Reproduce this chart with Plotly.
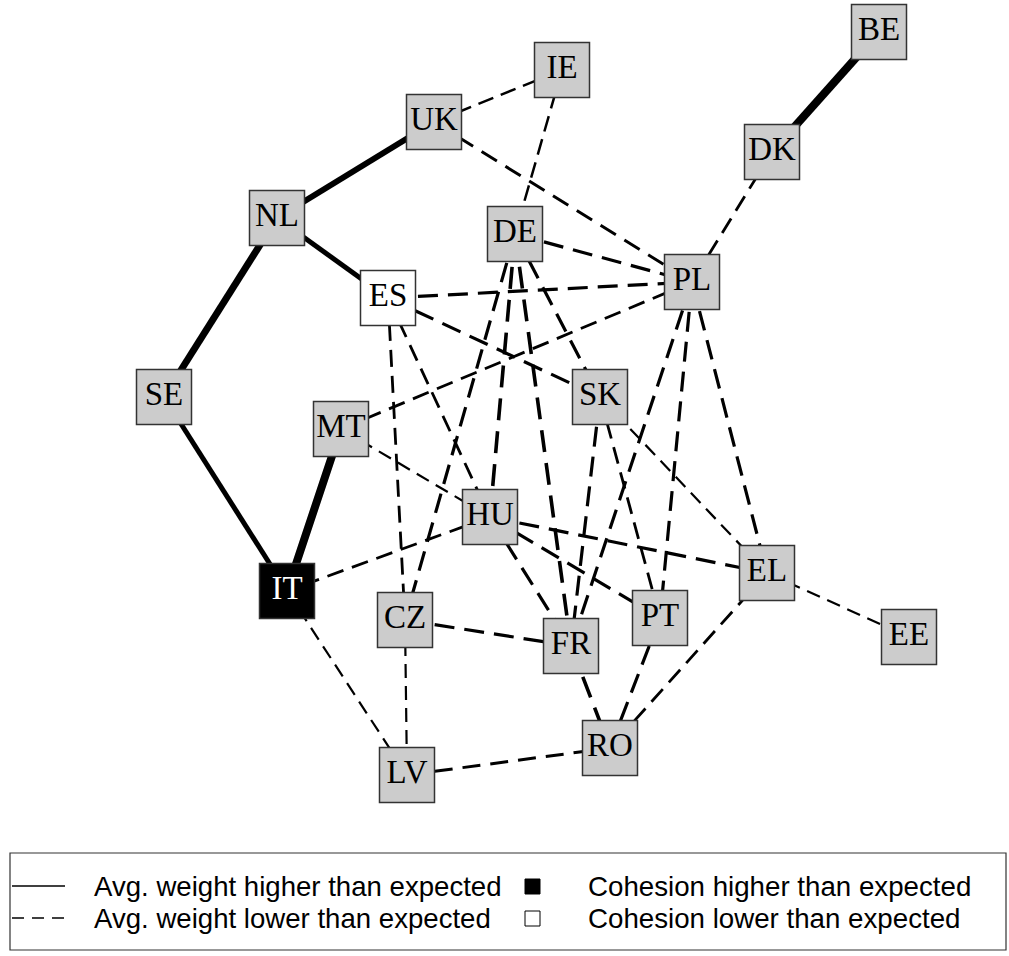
import plotly.graph_objects as go

# ---- data ----
node_names = ["BE", "IE", "UK", "DK", "NL", "DE", "PL", "ES", "SE", "SK",
              "MT", "HU", "EL", "IT", "CZ", "PT", "FR", "EE", "RO", "LV"]
node_x = [879, 562, 434, 772, 277, 515, 692, 388, 164, 600,
          341, 490, 767, 287, 405, 660, 571, 909, 610, 407]
node_y = [32, 70, 122, 152, 218, 234, 282, 298, 397, 397,
          429, 517, 573, 591, 620, 618, 646, 637, 748, 775]
# cohesion: 1 = higher than expected, -1 = lower than expected, 0 = neither
node_cohesion = [0, 0, 0, 0, 0, 0, 0, -1, 0, 0,
                 0, 0, 0, 1, 0, 0, 0, 0, 0, 0]

edge_from = ["BE", "UK", "NL", "NL", "SE", "MT",
             "UK", "UK", "IE", "DK", "DE", "ES", "ES", "ES", "ES", "MT", "MT",
             "DE", "DE", "DE", "DE", "PL", "PL", "PL", "SK", "SK", "SK",
             "HU", "HU", "HU", "HU", "IT", "CZ", "CZ", "FR", "PT", "EL", "EL", "LV"]
edge_to = ["DK", "NL", "SE", "ES", "IT", "IT",
           "IE", "PL", "DE", "PL", "PL", "PL", "SK", "CZ", "HU", "PL", "HU",
           "CZ", "HU", "FR", "SK", "FR", "PT", "EL", "FR", "PT", "EL",
           "IT", "FR", "PT", "EL", "LV", "FR", "LV", "RO", "RO", "RO", "EE", "RO"]
# 1 = avg. weight higher than expected (solid), 0 = lower (dashed)
edge_higher = [1, 1, 1, 1, 1, 1,
               0, 0, 0, 0, 0, 0, 0, 0, 0, 0, 0,
               0, 0, 0, 0, 0, 0, 0, 0, 0, 0,
               0, 0, 0, 0, 0, 0, 0, 0, 0, 0, 0, 0]
edge_weight = [8, 6, 7, 5, 5, 8,
               2.5, 3, 2.5, 2.8, 3.2, 3.2, 3.2, 2.8, 2.8, 2.8, 2.2,
               3.2, 3.6, 3.6, 3.2, 3.2, 3.2, 3.2, 3.2, 2.8, 2.2,
               2.8, 3.2, 3.2, 3.2, 2.2, 3.2, 2.2, 3.6, 3.2, 2.8, 2.2, 3]

legend_labels_edges = ["Avg. weight higher than expected", "Avg. weight lower than expected"]
legend_labels_nodes = ["Cohesion higher than expected", "Cohesion lower than expected"]

# ---- figure ----
W, H = 1009, 956
pos = {n: (x, y) for n, x, y in zip(node_names, node_x, node_y)}
fig = go.Figure()

for a, b, hi, w in zip(edge_from, edge_to, edge_higher, edge_weight):
    xa, ya = pos[a]
    xb, yb = pos[b]
    dash = "solid" if hi else ("%dpx,%dpx" % (round(5.5 * w + 2), round(2.6 * w + 2)))
    fig.add_trace(go.Scatter(
        x=[xa, xb], y=[ya, yb], mode="lines", cliponaxis=False,
        line=dict(color="black", width=w, dash=dash),
        hoverinfo="skip", showlegend=False))

fill = ["black" if c == 1 else ("white" if c == -1 else "#cccccc") for c in node_cohesion]
txtc = ["white" if c == 1 else "black" for c in node_cohesion]
fig.add_trace(go.Scatter(
    x=node_x, y=node_y, mode="markers+text", text=node_names, cliponaxis=False,
    textposition="middle center",
    textfont=dict(family="Liberation Serif", size=33, color=txtc),
    marker=dict(symbol="square", size=55, color=fill,
                line=dict(color="#333333", width=1.5)),
    hoverinfo="text", showlegend=False))

# ---- legend box (drawn) ----
shapes = [
    dict(type="rect", xref="x", yref="y", x0=10, x1=1006, y0=853, y1=950,
         line=dict(color="#333333", width=1.2), fillcolor="rgba(0,0,0,0)"),
    dict(type="line", xref="x", yref="y", x0=12, x1=65, y0=886, y1=886,
         line=dict(color="black", width=1.3)),
    dict(type="line", xref="x", yref="y", x0=12, x1=65, y0=918, y1=918,
         line=dict(color="black", width=1.3, dash="12px,8px")),
    dict(type="rect", xref="x", yref="y", x0=525, x1=540, y0=879, y1=894,
         line=dict(color="black", width=1), fillcolor="black"),
    dict(type="rect", xref="x", yref="y", x0=525, x1=540, y0=911, y1=926,
         line=dict(color="black", width=1), fillcolor="white"),
]
annotations = []
for i, t in enumerate(legend_labels_edges):
    annotations.append(dict(x=92, y=886 + 32 * i, xref="x", yref="y", text=t,
                            showarrow=False, xanchor="left", yanchor="middle",
                            font=dict(family="Liberation Sans", size=27.6, color="black")))
for i, t in enumerate(legend_labels_nodes):
    annotations.append(dict(x=586, y=886 + 32 * i, xref="x", yref="y", text=t,
                            showarrow=False, xanchor="left", yanchor="middle",
                            font=dict(family="Liberation Sans", size=27.7, color="black")))

fig.update_layout(
    width=W, height=H,
    margin=dict(l=0, r=0, t=0, b=0),
    paper_bgcolor="white", plot_bgcolor="white",
    xaxis=dict(range=[0, W], visible=False, fixedrange=True),
    yaxis=dict(range=[H, 0], visible=False, fixedrange=True),
    shapes=shapes, annotations=annotations,
)

fig.write_html("out.html",
               config={"displayModeBar": False},
               post_script="document.body.style.margin='0px';"
                           "document.body.style.overflow='hidden';")
